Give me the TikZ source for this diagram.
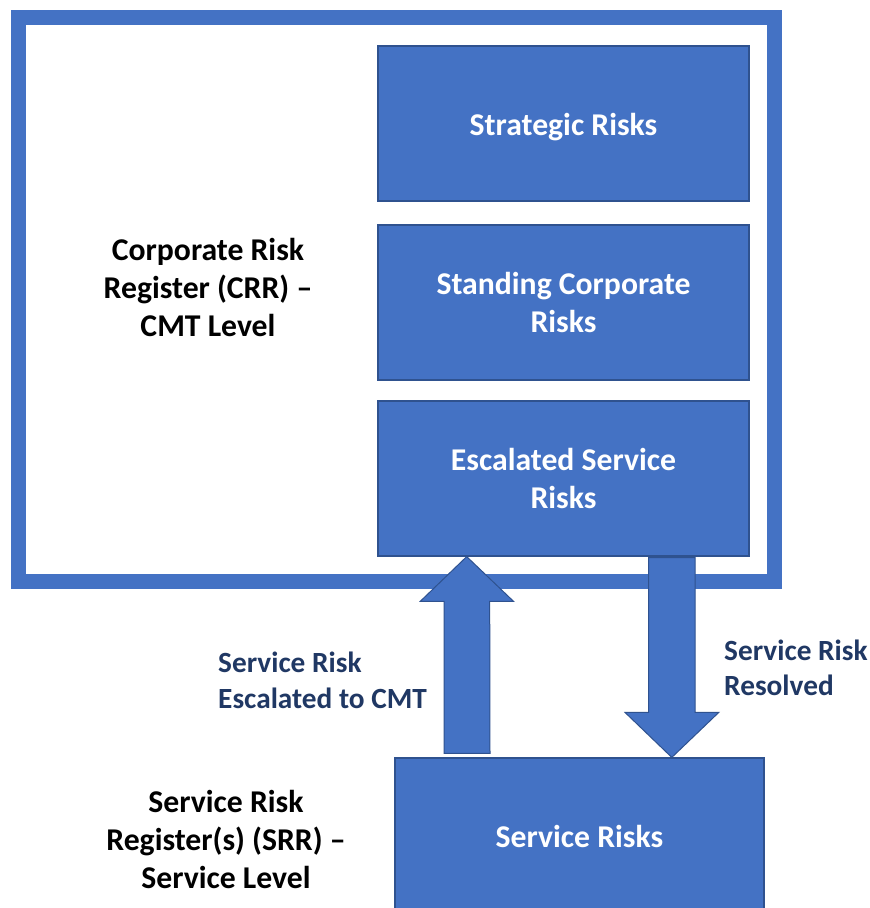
\documentclass[tikz,border=0pt]{standalone}
\usepackage{fontspec}
\setmainfont{Carlito}
\usetikzlibrary{calc}
\definecolor{boxblue}{HTML}{4472C4}
\definecolor{boxedge}{HTML}{2F528F}
\definecolor{navy}{HTML}{203864}
\tikzset{
  riskbox/.style={draw=boxedge, line width=1.2pt, fill=boxblue, text=white, align=center,
    minimum width=371pt, minimum height=155pt, inner sep=0pt,
    font=\bfseries\fontsize{31.7}{38}\selectfont},
  plainlabel/.style={align=center, text=black, inner sep=0pt,
    font=\bfseries\fontsize{31.7}{38}\selectfont},
  bluelabel/.style={align=left, text=navy, inner sep=0pt, anchor=west,
    font=\bfseries\fontsize{29.3}{35.5}\selectfont},
  blockarrow/.style={draw=boxedge, line width=1pt, fill=boxblue, line join=miter},
  frame/.style={draw=boxblue, line width=15pt}
}
\begin{document}
\begin{tikzpicture}[x=1pt,y=-1pt]
\clip (0,0) rectangle (870,908);
\fill[white] (0,0) rectangle (870,908);
% outer frame
\draw[frame] (18.5,17.5) rectangle (774,581.5);
% boxes
\node[riskbox, text height=24pt, text depth=0.6pt] (strat) at (563.5,123.5) {Strategic Risks};
\node[riskbox] (stand) at (563.5,302.5) {Standing Corporate\\Risks};
\node[riskbox] (esc) at (563.5,478.5) {Escalated Service\\Risks};
\node[riskbox, minimum width=369pt, minimum height=156pt] (serv) at (579.5,836) {Service Risks};
% labels
\node[plainlabel] (crr) at (208,287) {Corporate Risk\\Register (CRR) --\\CMT Level};
\node[plainlabel] (srr) at (226,839) {Service Risk\\Register(s) (SRR) --\\Service Level};
\node[bluelabel] (escl) at (218,680.5) {Service Risk\\Escalated to CMT};
\node[bluelabel] (resl) at (724,668) {Service Risk\\Resolved};
% up arrow: from service box to escalated box
\coordinate (uptip) at (esc.south -| 466.7,0);
\coordinate (upbase) at ($(serv.north -| 466.7,0)+(0,-4)$);
\draw[blockarrow] (uptip) -- ++(46.8,44.7) -- ++(-23.8,0) -- (upbase -| 490,0) -- (upbase -| 444,0) -- ($(uptip)+(-22.7,44.7)$) -- ++(-23.7,0) -- cycle;
% down arrow: from escalated box to service box
\coordinate (dntip) at (serv.north -| 671.8,0);
\coordinate (dntop) at ($(esc.south -| 671.8,0)+(0,1)$);
\draw[blockarrow] (dntop -| 648.7,0) -- (dntop -| 695,0) -- ($(dntip)+(23.2,-45)$) -- ++(23.8,0) -- (dntip) -- ($(dntip)+(-46.8,-45)$) -- ++(23.7,0) -- cycle;
\end{tikzpicture}
\end{document}
